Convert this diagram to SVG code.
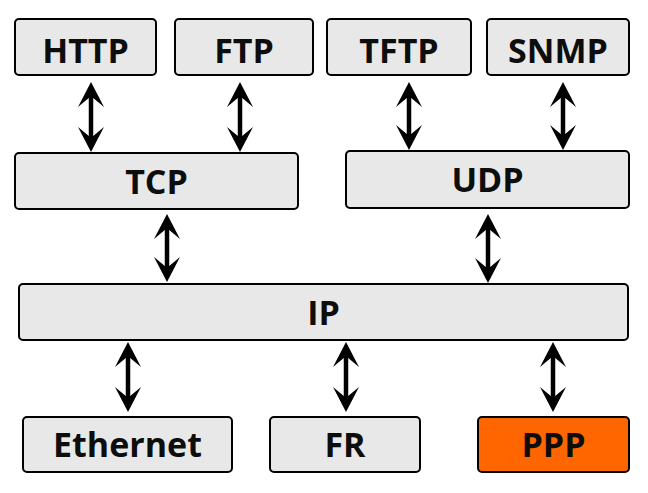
<svg xmlns="http://www.w3.org/2000/svg" width="648" height="493" viewBox="0 0 648 493">
<style>
.box{fill:#e8e8e8;stroke:#000;stroke-width:2}
.orange{fill:#ff6600}
.lbl{font-family:"Open Sans","Noto Sans",sans-serif;font-weight:bold;font-size:34px;fill:#0d0d0d;text-anchor:middle}
.arr{stroke:#000;stroke-width:4.5;fill:none;marker-start:url(#ah);marker-end:url(#ah)}
</style>
<defs>
<marker id="ah" viewBox="-27 -14 29 28" markerWidth="29" markerHeight="28" markerUnits="userSpaceOnUse" refX="-12" refY="0" orient="auto-start-reverse">
<path d="M0,0 L-25,-13 L-16,-2.2 L-16,2.2 L-25,13 Z" fill="#000"/>
</marker>
</defs>
<rect width="648" height="493" fill="#fff"/>
<g id="connectors">
<path class="arr" d="M91,94 V140"/>
<path class="arr" d="M240,94 V140"/>
<path class="arr" d="M409,94 V138"/>
<path class="arr" d="M563,94 V138"/>
<path class="arr" d="M167,226 V270"/>
<path class="arr" d="M488,226 V271"/>
<path class="arr" d="M128,354 V400"/>
<path class="arr" d="M346,354 V400"/>
<path class="arr" d="M553,354 V400"/>
</g>
<g id="http"><rect class="box" x="15" y="19" width="141" height="56" rx="4"/><text class="lbl" x="85.5" y="62.5">HTTP</text></g>
<g id="ftp"><rect class="box" x="175" y="19" width="138" height="56" rx="4"/><text class="lbl" x="244" y="62.5">FTP</text></g>
<g id="tftp"><rect class="box" x="327" y="19" width="144" height="56" rx="4"/><text class="lbl" x="399" y="62.5">TFTP</text></g>
<g id="snmp"><rect class="box" x="487" y="19" width="142" height="56" rx="4"/><text class="lbl" x="558" y="62.5">SNMP</text></g>
<g id="tcp"><rect class="box" x="15" y="153" width="283" height="56" rx="4"/><text class="lbl" x="156.5" y="193.5">TCP</text></g>
<g id="udp"><rect class="box" x="346" y="151" width="283" height="57" rx="4"/><text class="lbl" x="487.5" y="191.5">UDP</text></g>
<g id="ip"><rect class="box" x="19" y="284" width="609" height="56" rx="4"/><text class="lbl" x="323.5" y="324.5">IP</text></g>
<g id="ethernet"><rect class="box" x="23" y="417" width="209" height="55" rx="4"/><text class="lbl" x="127.5" y="456.5">Ethernet</text></g>
<g id="fr"><rect class="box" x="270" y="417" width="150" height="55" rx="4"/><text class="lbl" x="345" y="456.5">FR</text></g>
<g id="ppp"><rect class="box orange" x="478" y="417" width="151" height="55" rx="4"/><text class="lbl" x="553.5" y="456.5">PPP</text></g>
</svg>
